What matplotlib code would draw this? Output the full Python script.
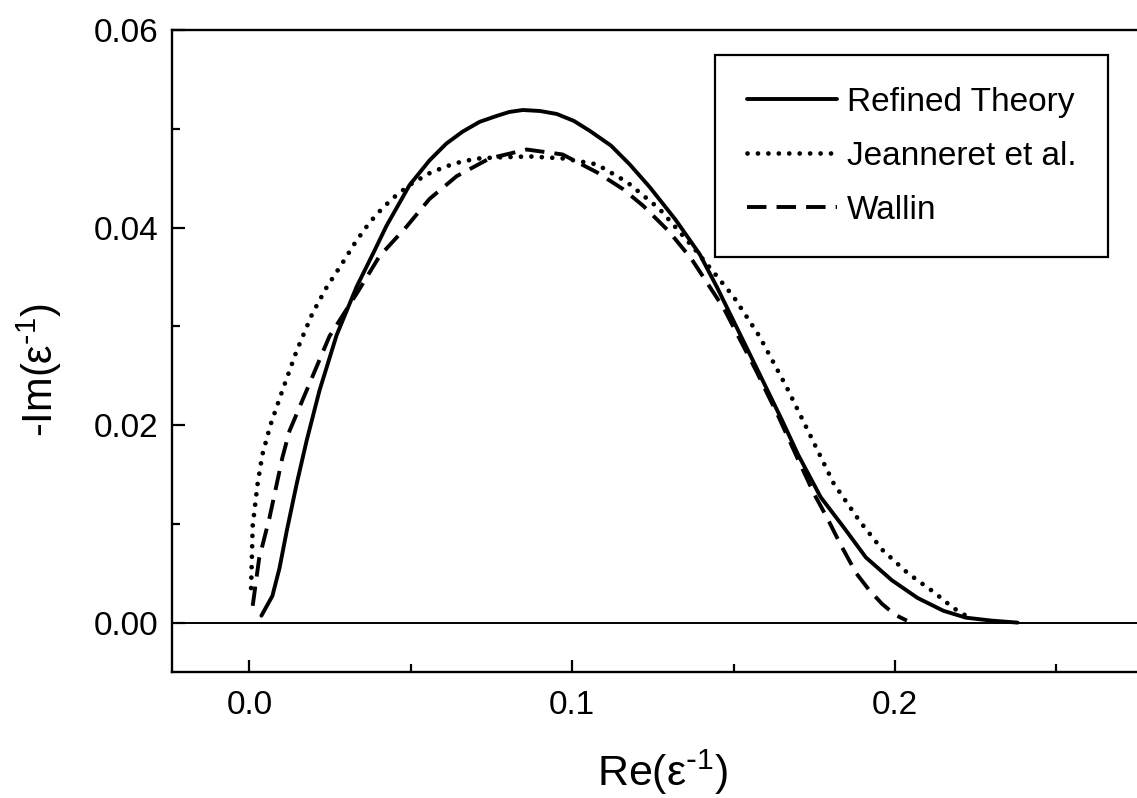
import matplotlib
matplotlib.use("Agg")
import matplotlib.pyplot as plt
from matplotlib.ticker import MultipleLocator

plt.rcParams['font.family'] = ['Liberation Sans', 'DejaVu Sans']
plt.rcParams['mathtext.default'] = 'regular'

# Loss-function curves: -Im(1/eps) against Re(1/eps)
refined_x = [0.0037, 0.0071, 0.0093, 0.0115, 0.0146, 0.0177, 0.0217, 0.027, 0.0332, 0.0385,
             0.0425, 0.0465, 0.0496, 0.0558, 0.061, 0.066, 0.0713, 0.0766, 0.0805, 0.0847,
             0.090, 0.0952, 0.1005, 0.1054, 0.112, 0.1178, 0.124, 0.132, 0.1395, 0.1448,
             0.152, 0.158, 0.165, 0.170, 0.177, 0.184, 0.191, 0.199, 0.207, 0.215,
             0.222, 0.230, 0.238]
refined_y = [0.0007, 0.0027, 0.0055, 0.0092, 0.0140, 0.0184, 0.0235, 0.0291, 0.0340, 0.0375,
             0.0402, 0.0425, 0.0443, 0.0468, 0.0485, 0.0497, 0.0507, 0.0513, 0.0517, 0.0519,
             0.0518, 0.0515, 0.0508, 0.0498, 0.0483, 0.0464, 0.0441, 0.0408, 0.0373, 0.0340,
             0.0292, 0.0252, 0.0205, 0.0170, 0.0127, 0.0097, 0.0066, 0.0043, 0.0025, 0.0012,
             0.0005, 0.0002, 0.0000]

jeanneret_x = [0.0005, 0.001, 0.0025, 0.004, 0.0065, 0.0102, 0.0146, 0.0195, 0.024, 0.0288,
               0.033, 0.0372, 0.0413, 0.0456, 0.0505, 0.0558, 0.061, 0.066, 0.0713, 0.0766,
               0.0868, 0.097, 0.1076, 0.117, 0.127, 0.138, 0.150, 0.158, 0.1665, 0.174,
               0.181, 0.189, 0.1963, 0.204, 0.212, 0.218, 0.222]
jeanneret_y = [0.0035, 0.0098, 0.0140, 0.0170, 0.0200, 0.0235, 0.0275, 0.0313, 0.0340, 0.0364,
               0.0386, 0.0405, 0.0420, 0.0433, 0.0445, 0.0455, 0.0462, 0.0467, 0.0470, 0.0471,
               0.0472, 0.0470, 0.0464, 0.0446, 0.0419, 0.0378, 0.0330, 0.0290, 0.0238, 0.0188,
               0.0141, 0.0103, 0.0073, 0.0050, 0.0031, 0.0015, 0.0007]

wallin_x = [0.001, 0.003, 0.0062, 0.0102, 0.0124, 0.0177, 0.0248, 0.0332, 0.0403, 0.0487,
            0.0558, 0.0642, 0.0744, 0.0859, 0.097, 0.1076, 0.1157, 0.122, 0.130, 0.137,
            0.147, 0.157, 0.164, 0.170, 0.175, 0.179, 0.183, 0.188, 0.192, 0.196,
            0.200, 0.2037]
wallin_y = [0.0017, 0.0065, 0.0106, 0.0167, 0.0194, 0.0235, 0.0290, 0.0333, 0.0371, 0.0401,
            0.0429, 0.0452, 0.0470, 0.0479, 0.0474, 0.0456, 0.0439, 0.0422, 0.0396, 0.0368,
            0.0318, 0.0255, 0.0208, 0.0165, 0.0130, 0.0106, 0.0080, 0.0050, 0.0033, 0.0019,
            0.0008, 0.0002]

labels = ["Refined Theory", "Jeanneret et al.", "Wallin"]

fig = plt.figure(figsize=(11.37, 7.98), dpi=100)
ax = fig.add_axes([172 / 1137, 1 - 672 / 798, 1 - 172 / 1137, (672 - 30) / 798])

ax.plot(refined_x, refined_y, color='black', lw=2.8, solid_capstyle='round',
        solid_joinstyle='round', label=labels[0])
ax.plot(jeanneret_x, jeanneret_y, color='black', lw=3.4, linestyle=(0, (0.01, 2.2)),
        dash_capstyle='round', label=labels[1])
ax.plot(wallin_x, wallin_y, color='black', lw=2.8, linestyle=(0, (5.0, 2.6)),
        label=labels[2])
ax.axhline(0.0, color='black', lw=1.4)

ax.set_xlim(-0.024, 0.275)
ax.set_ylim(-0.005, 0.06)
ax.xaxis.set_major_locator(MultipleLocator(0.1))
ax.xaxis.set_minor_locator(MultipleLocator(0.05))
ax.yaxis.set_major_locator(MultipleLocator(0.02))
ax.yaxis.set_minor_locator(MultipleLocator(0.01))
ax.xaxis.set_major_formatter(plt.FuncFormatter(lambda v, p: f"{v:.1f}"))
ax.yaxis.set_major_formatter(plt.FuncFormatter(lambda v, p: f"{v:.2f}"))

ax.tick_params(which='both', direction='in', width=1.6, labelsize=24)
ax.tick_params(which='major', length=9)
ax.tick_params(which='minor', length=5.5)
ax.tick_params(axis='y', pad=10)
ax.tick_params(axis='x', pad=13)

for side in ('left', 'bottom', 'top'):
    ax.spines[side].set_linewidth(1.7)
ax.spines['right'].set_visible(False)

ax.set_xlabel(r"Re(ε$^{\text{-}1}$)", fontsize=31)
ax.set_ylabel(r"-Im(ε$^{\text{-}1}$)", fontsize=30)
ax.xaxis.label.set_va('center')
ax.yaxis.label.set_va('center')
ax.xaxis.set_label_coords(0.508, -0.157)
ax.yaxis.set_label_coords(-0.137, 0.47)

leg = ax.legend(loc='upper left', bbox_to_anchor=(0.5627, 0.961), fontsize=24,
                frameon=True, fancybox=False, edgecolor='black', framealpha=1,
                handlelength=2.7, handletextpad=0.3, labelspacing=0.69,
                borderpad=0.95, borderaxespad=0.0)
leg.get_frame().set_linewidth(1.6)

fig.savefig("out.png", dpi=100)
